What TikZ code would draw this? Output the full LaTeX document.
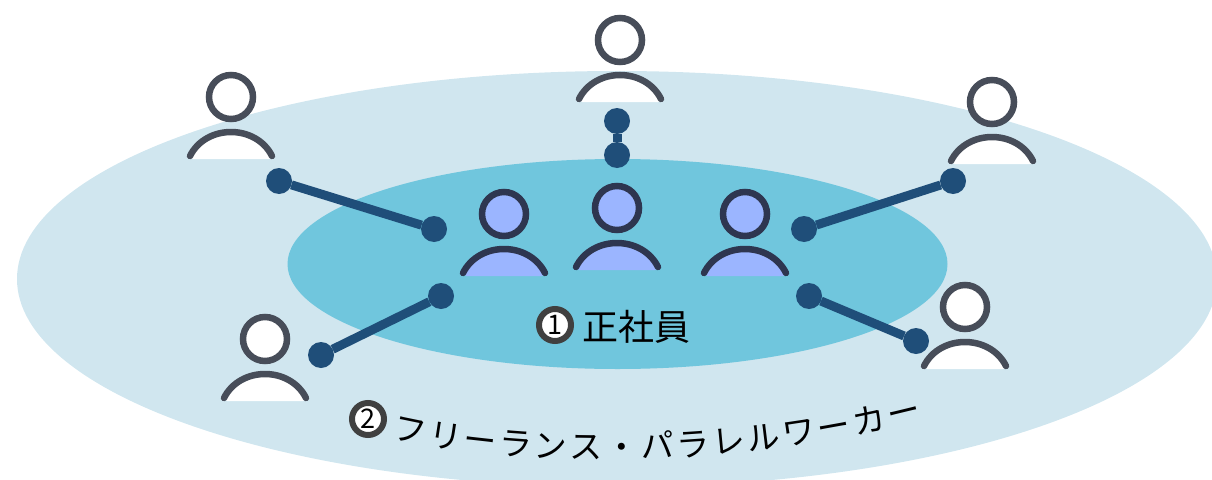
\documentclass[tikz,border=0pt]{standalone}
\usepackage{fontspec}
\newfontfamily\jpfont{Noto Sans CJK JP}
\usetikzlibrary{decorations.text}
\definecolor{outerarea}{HTML}{D0E6EF}
\definecolor{innerarea}{HTML}{70C6DD}
\definecolor{linkblue}{HTML}{1F4E79}
\definecolor{freeline}{HTML}{474D59}
\definecolor{staffline}{HTML}{2E3650}
\definecolor{stafffill}{HTML}{9BB5FF}
\definecolor{markline}{HTML}{404040}
\tikzset{
	linkdot/.style={circle,fill=linkblue,minimum size=26pt,inner sep=0pt,outer sep=0pt},
	linkbar/.style={draw=linkblue,line width=9pt},
	markbox/.style={circle,draw=markline,fill=white,line width=6pt,minimum size=32pt,inner sep=0pt,font=\jpfont\fontsize{27}{27}\selectfont},
	labeltext/.style={font=\jpfont\fontsize{36}{36}\selectfont,inner sep=0pt},
}
% head centre x, y, line colour, fill colour
\newcommand{\persona}[4]{
	\fill[#4] (#1-41,#2+59) .. controls (#1-25,#2+27) and (#1+25,#2+27) .. (#1+41,#2+59)--(#1+38,#2+62)--(#1-38,#2+62)--cycle;
	\draw[#3,fill=#4,line width=6.5pt] (#1,#2) circle (22);
	\draw[#3,line width=6.5pt,line cap=round] (#1-41,#2+59) .. controls (#1-25,#2+27) and (#1+25,#2+27) .. (#1+41,#2+59);
}
\begin{document}
\begin{tikzpicture}[x=1pt,y=-1pt]
	\useasboundingbox (0,0) rectangle (1212,479);
	\clip (0,0) rectangle (1212,479);
	\fill[outerarea] (617,279) ellipse [x radius=600,y radius=208];
	\fill[innerarea] (617.5,264) ellipse [x radius=330,y radius=105];

	\persona{620}{40}{freeline}{white}
	\persona{231}{97}{freeline}{white}
	\persona{992}{102}{freeline}{white}
	\persona{265}{339}{freeline}{white}
	\persona{965}{307}{freeline}{white}
	\persona{504}{214}{staffline}{stafffill}
	\persona{617}{208}{staffline}{stafffill}
	\persona{745}{214}{staffline}{stafffill}

	\foreach \na/\xa/\ya/\nb/\xb/\yb in {top/617/121/topin/617/155, lefttop/279/181/lefttopin/434/229, leftlow/321/355/leftlowin/441/296, righttop/953/181/righttopin/804/229, rightlow/916/341/rightlowin/809/296}{
		\node[linkdot] (\na) at (\xa,\ya) {};
		\node[linkdot] (\nb) at (\xb,\yb) {};
		\draw[linkbar] (\na)--(\nb);
	}

	\node[markbox] (markone) at (555,325) {1};
	\node[labeltext] (staff) at (636,327) {正社員};
	\node[markbox] (marktwo) at (368,419) {2};
	\path[decorate,decoration={text along path,text align={fit to path},
		text={|\jpfont\fontsize{33}{34}\selectfont|フリーランス・パラレルワーカー}}]
		(392,438) .. controls (510,466) and (720,472) .. (922,420);
\end{tikzpicture}
\end{document}
